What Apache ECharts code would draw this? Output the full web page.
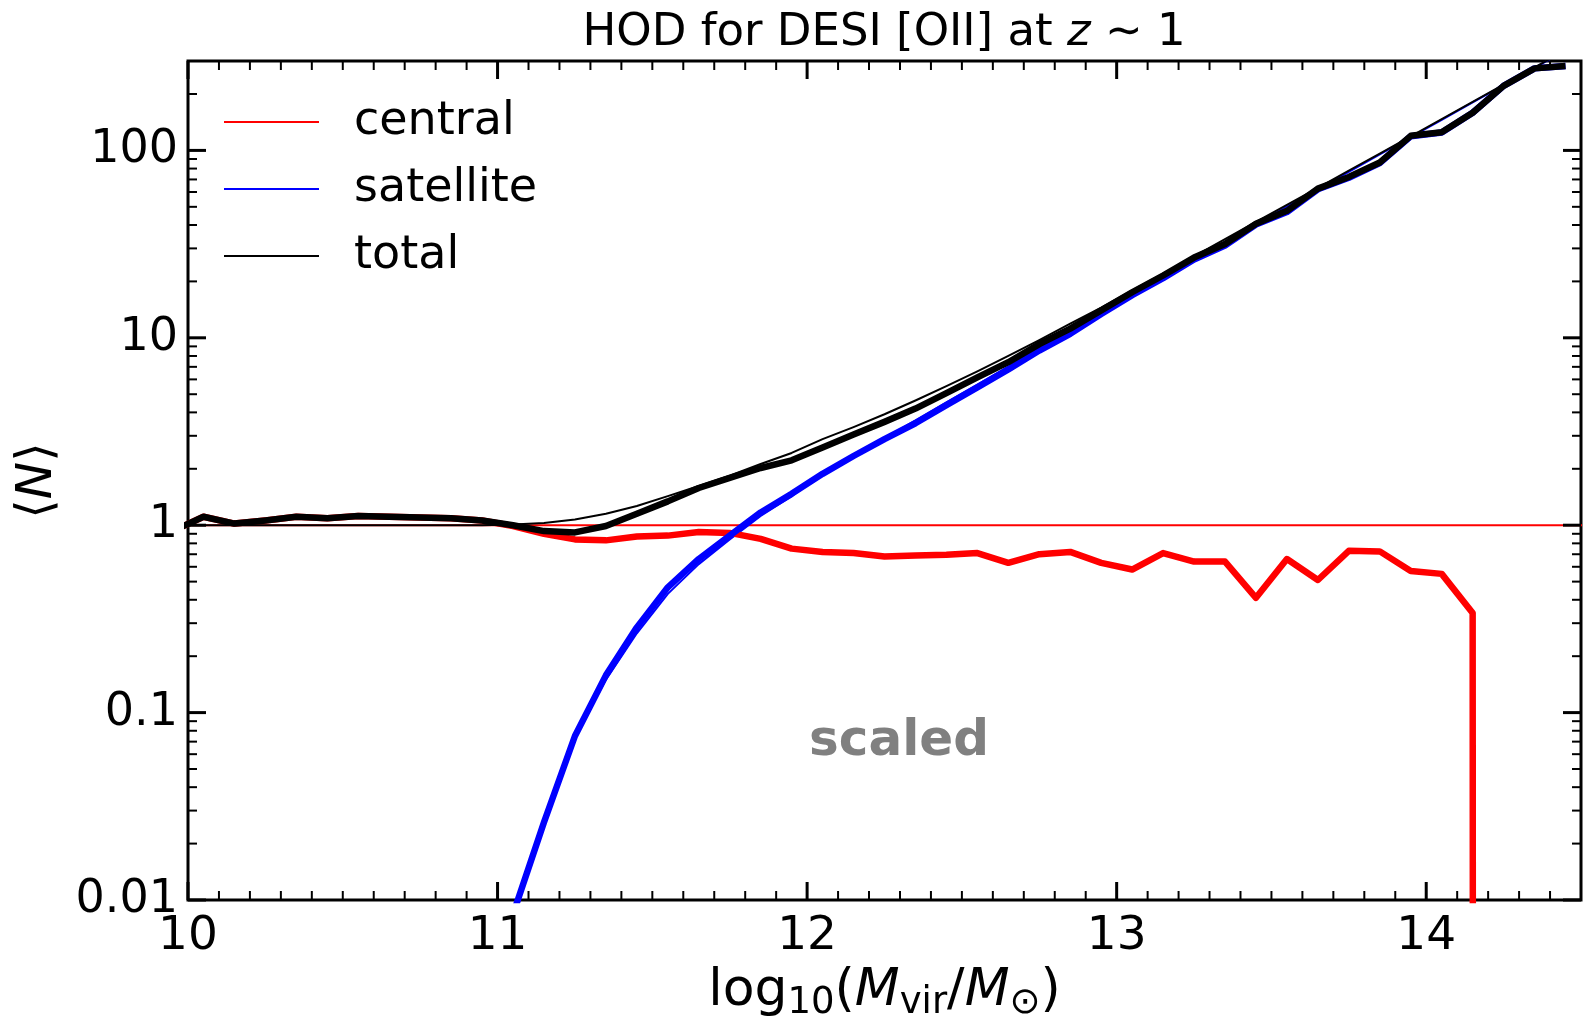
<!DOCTYPE html>
<html>
<head>
<meta charset="utf-8">
<script src="https://cdn.jsdelivr.net/npm/echarts@6/dist/echarts.min.js"></script>
<style>
  html, body { margin: 0; padding: 0; background: #fff; }
  #chart { width: 1585px; height: 1017px; }
</style>
</head>
<body>
<div id="chart"></div>
<script>
// Halo mass bins, log10(Mvir/Msun)
const MASS_BINS = [
  9.95, 10.05, 10.15, 10.25, 10.35, 10.45, 10.55, 10.65, 10.75, 10.85, 10.95,
  11.05, 11.15, 11.25, 11.35, 11.45, 11.55, 11.65, 11.75, 11.85, 11.95,
  12.05, 12.15, 12.25, 12.35, 12.45, 12.55, 12.65, 12.75, 12.85, 12.95,
  13.05, 13.15, 13.25, 13.35, 13.45, 13.55, 13.65, 13.75, 13.85, 13.95,
  14.05, 14.15, 14.25, 14.35, 14.45
];
// Model curves are evaluated one bin further so they reach the right edge
const MODEL_BINS = MASS_BINS.concat([14.55]);

// Measured (scaled) occupation numbers
const CENTRAL_DATA = [
  0.93, 1.11, 1.02, 1.06, 1.11, 1.09, 1.12, 1.11, 1.10, 1.09, 1.06,
  0.99, 0.90, 0.84, 0.83, 0.87, 0.88, 0.92, 0.91, 0.845, 0.75,
  0.72, 0.71, 0.68, 0.69, 0.695, 0.71, 0.63, 0.70, 0.72, 0.63,
  0.58, 0.71, 0.64, 0.64, 0.41, 0.66, 0.51, 0.73, 0.725, 0.57,
  0.55, 0.34, 0, 0, 0
];
const SATELLITE_DATA = [
  0, 0, 0, 0, 0, 0, 0, 0, 0, 0, 0,
  0.0084, 0.026, 0.075, 0.158, 0.285, 0.466, 0.66, 0.88, 1.17, 1.47,
  1.88, 2.34, 2.88, 3.5, 4.37, 5.44, 6.78, 8.55, 10.5, 13.4,
  16.9, 20.8, 26.2, 31.1, 40.2, 46.9, 62.0, 71.5, 85.5, 119,
  124.5, 158.7, 221, 274, 282
];
const TOTAL_DATA = [
  0.93, 1.11, 1.02, 1.06, 1.11, 1.09, 1.12, 1.11, 1.10, 1.09, 1.06,
  1.00, 0.93, 0.915, 0.99, 1.15, 1.34, 1.58, 1.79, 2.02, 2.22,
  2.6, 3.05, 3.56, 4.19, 5.07, 6.15, 7.41, 9.25, 11.2, 14.0,
  17.5, 21.5, 26.8, 31.7, 40.6, 47.6, 62.5, 72.2, 86.2, 119.6,
  125, 159, 221, 274, 282
];

// HOD model curves
const CENTRAL_MODEL = [
  1, 1, 1, 1, 1, 1, 1, 1, 1, 1, 1,
  1, 1, 1, 1, 1, 1, 1, 1, 1, 1,
  1, 1, 1, 1, 1, 1, 1, 1, 1, 1,
  1, 1, 1, 1, 1, 1, 1, 1, 1, 1,
  1, 1, 1, 1, 1, 1
];
const SATELLITE_MODEL = [
  0, 0, 0, 0, 0, 0, 0, 0, 0, 0, 0,
  0.008, 0.026, 0.074, 0.15, 0.265, 0.43, 0.62, 0.84, 1.12, 1.43,
  1.88, 2.34, 2.91, 3.63, 4.52, 5.62, 7.01, 8.73, 10.9, 13.5,
  16.9, 21.0, 26.2, 32.6, 40.6, 50.2, 62.2, 76.9, 95.2, 117.8,
  145.7, 180.3, 223.1, 276.1, 341.7, 422.7
];
const TOTAL_MODEL = [
  1, 1, 1, 1, 1, 1, 1, 1, 1, 1, 1,
  1.008, 1.026, 1.074, 1.15, 1.265, 1.43, 1.62, 1.84, 2.12, 2.43,
  2.88, 3.34, 3.91, 4.63, 5.52, 6.62, 8.01, 9.73, 11.9, 14.5,
  17.9, 22.0, 27.2, 33.6, 41.6, 51.2, 63.2, 77.9, 96.2, 118.8,
  146.7, 181.3, 224.1, 277.1, 342.7, 423.7
];

// Axes
const X_MIN = 10, X_MAX = 14.5;
const Y_MIN = 0.01, Y_MAX = 300;
const X_MAJOR_TICKS = [10, 11, 12, 13, 14];
const X_TICK_LABELS = ['10', '11', '12', '13', '14'];
const Y_MAJOR_TICKS = [0.01, 0.1, 1, 10, 100];
const Y_TICK_LABELS = ['0.01', '0.1', '1', '10', '100'];

const FONT = 'DejaVu Sans';
const RED = '#ff0000', BLUE = '#0000ff', BLACK = '#000000';

// Non-positive values are pushed far below the log axis (clipped by the grid)
const LOG_FLOOR = 1e-300;
function pairs(xs, ys) {
  return xs.map((x, i) => [x, ys[i] > 0 ? ys[i] : LOG_FLOOR]);
}

// Minor tick positions
const xMinor = [];
for (let k = 101; k < 145; k++) {
  if (k % 10 !== 0) xMinor.push(k / 10);
}
const yMinor = [];
for (let e = -2; e <= 2; e++) {
  for (let m = 2; m <= 9; m++) {
    const v = m * Math.pow(10, e);
    if (v < Y_MAX) yMinor.push(v);
  }
}
const xTickData = X_MAJOR_TICKS.map(v => [v, 1, 1]).concat(xMinor.map(v => [v, 1, 0]));
const yTickData = Y_MAJOR_TICKS.map(v => [X_MIN, v, 1]).concat(yMinor.map(v => [X_MIN, v, 0]));

const MAJOR_LEN = 18, MINOR_LEN = 9;

function renderXTick(params, api) {
  const cs = params.coordSys;
  const major = api.value(2) === 1;
  const len = major ? MAJOR_LEN : MINOR_LEN;
  const px = api.coord([api.value(0), Y_MIN])[0];
  const st = { stroke: BLACK, lineWidth: major ? 3 : 2 };
  const bottom = cs.y + cs.height, top = cs.y;
  return {
    type: 'group',
    children: [
      { type: 'line', shape: { x1: px, y1: bottom, x2: px, y2: bottom - len }, style: st },
      { type: 'line', shape: { x1: px, y1: top, x2: px, y2: top + len }, style: st }
    ]
  };
}
function renderYTick(params, api) {
  const cs = params.coordSys;
  const major = api.value(2) === 1;
  const len = major ? MAJOR_LEN : MINOR_LEN;
  const py = api.coord([X_MIN, api.value(1)])[1];
  const st = { stroke: BLACK, lineWidth: major ? 3 : 2 };
  const left = cs.x, right = cs.x + cs.width;
  return {
    type: 'group',
    children: [
      { type: 'line', shape: { x1: left, y1: py, x2: left + len, y2: py }, style: st },
      { type: 'line', shape: { x1: right, y1: py, x2: right - len, y2: py }, style: st }
    ]
  };
}

function lineSeries(name, xs, ys, color, width, z) {
  return {
    name: name,
    type: 'line',
    data: pairs(xs, ys),
    showSymbol: false,
    symbol: 'none',
    clip: true,
    silent: true,
    z: z,
    lineStyle: { color: color, width: width, join: 'round', cap: 'butt' },
    itemStyle: { color: color },
    emphasis: { disabled: true }
  };
}

const chart = echarts.init(document.getElementById('chart'), null, { renderer: 'canvas' });

const option = {
  animation: false,
  backgroundColor: '#ffffff',
  grid: {
    left: 188, right: 4, top: 61, bottom: 117,
    show: true, borderColor: BLACK, borderWidth: 3, backgroundColor: 'transparent',
    containLabel: false, outerBoundsMode: 'none'
  },
  legend: {
    data: ['central', 'satellite', 'total'],
    orient: 'vertical',
    left: 224, top: 97,
    padding: 0,
    icon: 'rect',
    itemWidth: 95, itemHeight: 2, itemGap: 17,
    selectedMode: false,
    textStyle: { fontFamily: FONT, fontSize: 46, color: BLACK, lineHeight: 50, padding: [0, 0, 0, 30] }
  },
  xAxis: {
    type: 'value',
    min: X_MIN, max: X_MAX, interval: 1,
    axisLine: { show: false },
    axisTick: { show: false },
    splitLine: { show: false },
    axisLabel: {
      show: true, margin: 13, showMinLabel: true, showMaxLabel: false,
      fontFamily: FONT, fontSize: 47, color: BLACK,
      formatter: v => {
        const i = X_MAJOR_TICKS.indexOf(Math.round(v * 1000) / 1000);
        return i >= 0 ? X_TICK_LABELS[i] : '';
      }
    },
    name: '{r|log}{s|10}{r|(}{i|M}{s|vir}{r|/}{i|M}{s|⊙}{r|)}',
    nameLocation: 'middle',
    nameGap: 60,
    nameTextStyle: {
      fontFamily: FONT, fontSize: 52, color: BLACK,
      rich: {
        r: { fontFamily: FONT, fontSize: 52, color: BLACK },
        i: { fontFamily: FONT, fontSize: 52, fontStyle: 'italic', color: BLACK },
        s: { fontFamily: FONT, fontSize: 37, color: BLACK, padding: [25, 0, 0, 0] }
      }
    }
  },
  yAxis: {
    type: 'log',
    logBase: 10,
    min: Y_MIN, max: Y_MAX,
    axisLine: { show: false },
    axisTick: { show: false },
    splitLine: { show: false },
    minorSplitLine: { show: false },
    axisLabel: {
      show: true, margin: 10, showMinLabel: true, showMaxLabel: false,
      fontFamily: FONT, fontSize: 46, color: BLACK,
      formatter: v => {
        const l = Math.log10(v);
        const e = Math.round(l);
        if (Math.abs(l - e) > 1e-6) return '';
        const i = e + 2;
        return (i >= 0 && i < Y_TICK_LABELS.length) ? Y_TICK_LABELS[i] : '';
      }
    },
    name: '{a|⟨}{i|N}{a|⟩}',
    nameLocation: 'middle',
    nameRotate: 90,
    nameGap: 125,
    nameTextStyle: {
      fontFamily: FONT, fontSize: 50, color: BLACK,
      rich: {
        a: { fontFamily: FONT, fontSize: 50, color: BLACK },
        i: { fontFamily: FONT, fontSize: 50, fontStyle: 'italic', color: BLACK }
      }
    }
  },
  graphic: {
    elements: [
      {
        type: 'text', x: 884, y: 33, silent: true,
        style: {
          text: '{a|HOD for DESI [OII] at }{i|z}{a| ∼ 1}',
          align: 'center', verticalAlign: 'middle',
          rich: {
            a: { fontFamily: FONT, fontSize: 45, fill: BLACK },
            i: { fontFamily: FONT, fontSize: 45, fontStyle: 'italic', fill: BLACK }
          }
        }
      },
      {
        type: 'text', x: 899, y: 742, silent: true,
        style: {
          text: 'scaled', fontFamily: FONT, fontSize: 50, fontWeight: 'bold',
          fill: '#808080', align: 'center', verticalAlign: 'middle'
        }
      }
    ]
  },
  series: [
    lineSeries('central', MODEL_BINS, CENTRAL_MODEL, RED, 2, 2),
    lineSeries('satellite', MODEL_BINS, SATELLITE_MODEL, BLUE, 2, 2),
    lineSeries('central (scaled data)', MASS_BINS, CENTRAL_DATA, RED, 6.5, 3),
    lineSeries('satellite (scaled data)', MASS_BINS, SATELLITE_DATA, BLUE, 6.5, 3),
    lineSeries('total (scaled data)', MASS_BINS, TOTAL_DATA, BLACK, 6.5, 4),
    lineSeries('total', MODEL_BINS, TOTAL_MODEL, BLACK, 2, 5),
    {
      type: 'custom', silent: true, z: 10, clip: false,
      dimensions: ['x', 'y', 'major'],
      encode: { x: 0, y: 1 },
      renderItem: renderXTick,
      data: xTickData
    },
    {
      type: 'custom', silent: true, z: 10, clip: false,
      dimensions: ['x', 'y', 'major'],
      encode: { x: 0, y: 1 },
      renderItem: renderYTick,
      data: yTickData
    }
  ]
};

chart.setOption(option);
</script>
</body>
</html>
